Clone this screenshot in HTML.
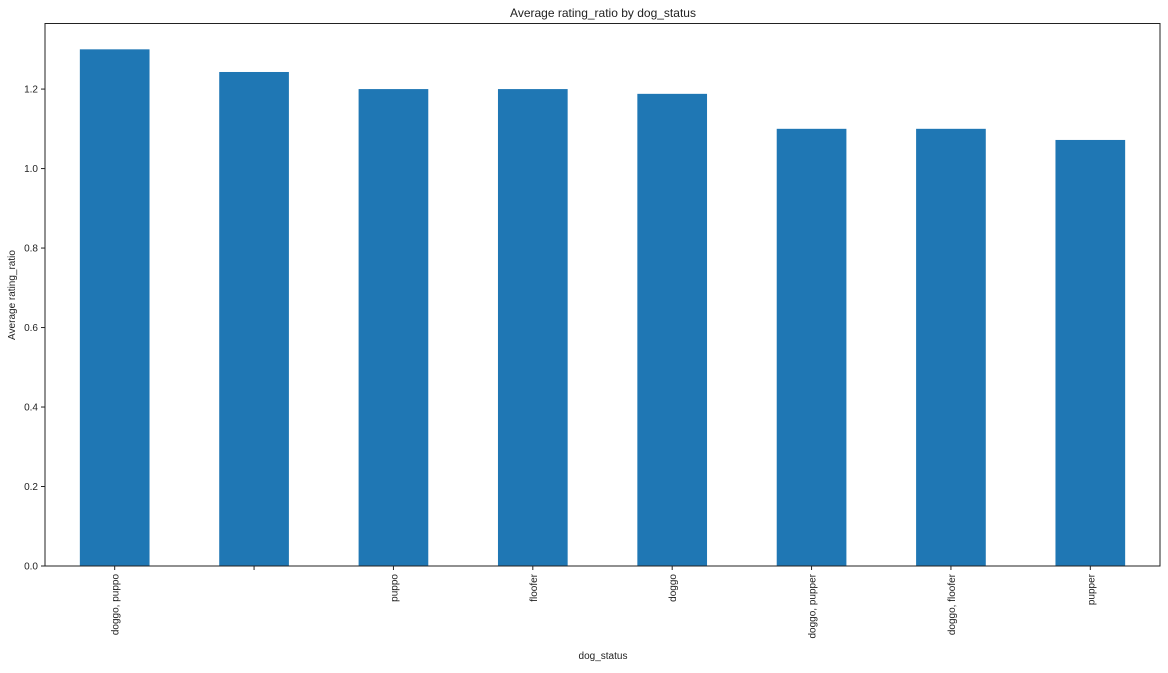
<!DOCTYPE html>
<html><head><meta charset="utf-8"><style>
body{margin:0;background:#fff;}
svg text{font-family:"Liberation Sans","DejaVu Sans",sans-serif;fill:#222;}
</style></head><body>
<svg id="chart" width="1168" height="668" xmlns="http://www.w3.org/2000/svg">
<rect width="1168" height="668" fill="#fff"/>
<text x="603" y="17" text-anchor="middle" font-size="12">Average rating_ratio by dog_status</text>
<g id="bars"></g><g id="yticks"></g><g id="xticks"></g>
<rect x="45" y="23.5" width="1115" height="542.5" fill="none" stroke="#222" stroke-width="1"/>
<text transform="translate(15,295) rotate(-90)" text-anchor="middle" font-size="10">Average rating_ratio</text>
<text x="603" y="659" text-anchor="middle" font-size="10">dog_status</text>
</svg>
<script>
const categories=["doggo, puppo","","puppo","floofer","doggo","doggo, pupper","doggo, floofer","pupper"];
const values=[1.3,1.243,1.2,1.2,1.188,1.1,1.1,1.072];
const yTicks=[0,0.2,0.4,0.6,0.8,1.0,1.2];
const L=45,R=1160,B=566,T=23.5,yMax=1.365;
const ns="http://www.w3.org/2000/svg";
const step=(R-L)/categories.length;
const xc=i=>L+step*(i+0.5);
const y=v=>B-(v/yMax)*(B-T);
const bars=document.getElementById('bars'),yt=document.getElementById('yticks'),xt=document.getElementById('xticks');
values.forEach((v,i)=>{
 const r=document.createElementNS(ns,'rect');
 r.setAttribute('x',xc(i)-step/4);r.setAttribute('width',step/2);
 r.setAttribute('y',y(v));r.setAttribute('height',B-y(v));r.setAttribute('fill','#1f77b4');
 
 
 bars.appendChild(r);
 const l=document.createElementNS(ns,'line');
 l.setAttribute('x1',xc(i));l.setAttribute('x2',xc(i));l.setAttribute('y1',B);l.setAttribute('y2',B+4);l.setAttribute('stroke','#222');
 
 
 xt.appendChild(l);
 const t=document.createElementNS(ns,'text');
 t.setAttribute('transform','translate('+(xc(i)+4)+','+(B+8)+') rotate(-90)');
 t.setAttribute('text-anchor','end');t.setAttribute('font-size','10');
 t.textContent=categories[i];
 
 
 xt.appendChild(t);
});
yTicks.forEach(v=>{
 const l=document.createElementNS(ns,'line');
 l.setAttribute('x1',L-4);l.setAttribute('x2',L);l.setAttribute('y1',y(v));l.setAttribute('y2',y(v));l.setAttribute('stroke','#222');
 
 
 yt.appendChild(l);
 const t=document.createElementNS(ns,'text');
 t.setAttribute('x',L-7);t.setAttribute('y',y(v)+3.5);t.setAttribute('text-anchor','end');t.setAttribute('font-size','10');
 t.textContent=v.toFixed(1);
 
 
 yt.appendChild(t);
});
</script>
</body></html>
